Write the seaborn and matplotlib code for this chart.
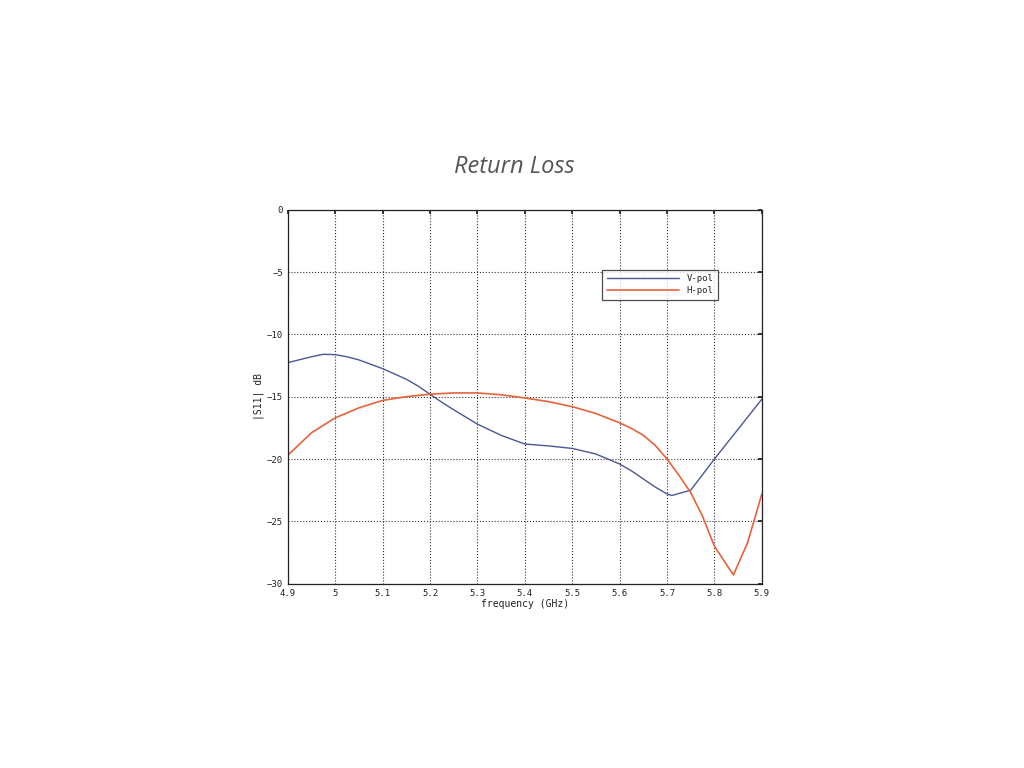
import matplotlib
matplotlib.use("Agg")
import matplotlib.pyplot as plt
import pandas as pd
import seaborn as sns

# values
v_freq = [4.9, 4.95, 4.975, 5.0, 5.025, 5.05, 5.1, 5.15, 5.175, 5.2, 5.225, 5.25,
          5.3, 5.35, 5.4, 5.45, 5.5, 5.55, 5.6, 5.625, 5.65, 5.675, 5.7, 5.71,
          5.75, 5.8, 5.85, 5.9]
v_pol = [-12.27, -11.8, -11.6, -11.63, -11.8, -12.05, -12.75, -13.6, -14.15, -14.8,
         -15.45, -16.05, -17.2, -18.1, -18.8, -18.95, -19.15, -19.6, -20.4, -20.95,
         -21.6, -22.25, -22.8, -22.93, -22.5, -20.0, -17.6, -15.2]

h_freq = [4.9, 4.95, 5.0, 5.05, 5.1, 5.15, 5.2, 5.25, 5.3, 5.35, 5.4, 5.45, 5.5,
          5.55, 5.6, 5.625, 5.65, 5.675, 5.7, 5.725, 5.75, 5.775, 5.8, 5.84, 5.87,
          5.9]
h_pol = [-19.7, -17.9, -16.7, -15.9, -15.3, -15.0, -14.8, -14.7, -14.7, -14.85,
         -15.1, -15.4, -15.8, -16.35, -17.1, -17.55, -18.1, -18.9, -20.0, -21.3,
         -22.7, -24.6, -27.0, -29.3, -26.7, -22.8]

x_ticks = [4.9, 5.0, 5.1, 5.2, 5.3, 5.4, 5.5, 5.6, 5.7, 5.8, 5.9]
x_labels = ["4.9", "5", "5.1", "5.2", "5.3", "5.4", "5.5", "5.6", "5.7", "5.8", "5.9"]
y_ticks = [-30, -25, -20, -15, -10, -5, 0]

sns.set_theme(style="white")
plt.rcParams["font.family"] = ["DejaVu Sans Mono", "DejaVu Sans"]

v_df = pd.DataFrame({"freq": v_freq, "s11": v_pol})
h_df = pd.DataFrame({"freq": h_freq, "s11": h_pol})

fig = plt.figure(figsize=(10.24, 7.68), dpi=100)
ax = fig.add_axes([0.281, 0.240, 0.463, 0.487])

sns.lineplot(data=v_df, x="freq", y="s11", color="#4a5796", linewidth=1.0,
             sort=False, estimator=None, label="V-pol", ax=ax)
sns.lineplot(data=h_df, x="freq", y="s11", color="#e8623a", linewidth=1.2,
             sort=False, estimator=None, label="H-pol", ax=ax)

ax.set_xlim(4.9, 5.9)
ax.set_ylim(-30, 0)
ax.set_xticks(x_ticks)
ax.set_xticklabels(x_labels)
ax.set_yticks(y_ticks)
ax.tick_params(direction="in", length=3, labelsize=6.5, colors="#222222",
               top=True, right=True)
ax.grid(True, linestyle=":", color="#333333", linewidth=0.8)
for sp in ax.spines.values():
    sp.set_color("#222222")
    sp.set_linewidth(0.9)

ax.set_xlabel("frequency (GHz)", fontsize=7, color="#222222", labelpad=1)
ax.set_ylabel("|S11| dB", fontsize=7, color="#222222", labelpad=2)

leg = ax.legend(loc="upper right", bbox_to_anchor=(0.907, 0.84), fontsize=6.5,
                frameon=True, fancybox=False, edgecolor="#222222",
                handlelength=8, borderpad=0.5, labelspacing=0.35,
                borderaxespad=0)
leg.get_frame().set_linewidth(0.9)

fig.text(0.502, 0.782, "Return Loss", ha="center", va="center", fontsize=17,
         style="italic", color="#555555", family=["Open Sans", "DejaVu Sans"])

fig.savefig("out.png", dpi=100)
